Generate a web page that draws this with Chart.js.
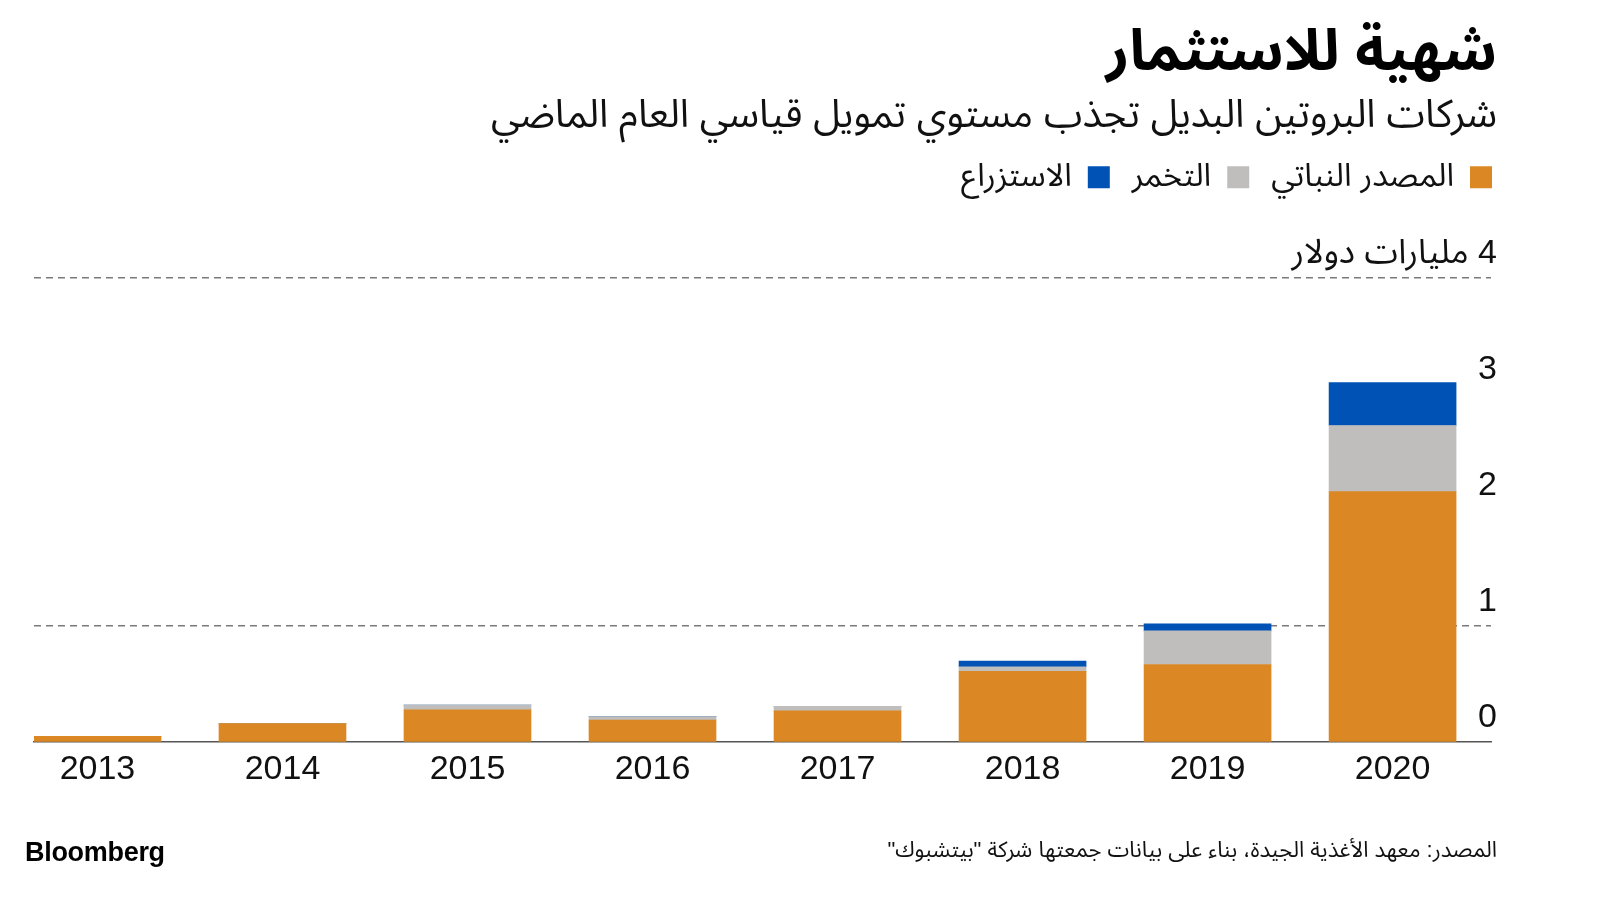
<!DOCTYPE html>
<html lang="ar">
<head>
    <meta charset="UTF-8">
    <title>شهية للاستثمار</title>
    <script src="https://cdn.jsdelivr.net/npm/chart.js"></script>
    <style>
        body { margin: 0; background: #fff; }
        .wrap { position: relative; width: 1600px; height: 912px; }
        .brand {
            position: absolute; left: 25px; top: 837px;
            font: bold 27px 'Liberation Sans', Arial, sans-serif;
            letter-spacing: -0.3px; color: #000;
        }
        .source {
            position: absolute; right: 103px; top: 827px;
            font: 22px 'Liberation Sans', 'Noto Sans Arabic', 'DejaVu Sans', sans-serif;
            color: #111; direction: rtl;
        }
    </style>
</head>
<body>
    <div class="wrap">
        <canvas id="chart"></canvas>
        <div class="brand">Bloomberg</div>
        <div class="source">المصدر: معهد الأغذية الجيدة، بناء على بيانات جمعتها شركة "بيتشبوك"</div>
    </div>

    <script>
        // data (billions of dollars)
        const years = ['2013', '2014', '2015', '2016', '2017', '2018', '2019', '2020'];
        const plantBased   = [0.05, 0.16, 0.28, 0.19, 0.27, 0.61, 0.67, 2.16];
        const fermentation = [0.00, 0.00, 0.04, 0.03, 0.04, 0.04, 0.29, 0.57];
        const cultivated   = [0.00, 0.00, 0.00, 0.00, 0.00, 0.05, 0.06, 0.37];
        const seriesNames  = ['المصدر النباتي', 'التخمر', 'الاستزراع'];
        const yTicks = [0, 1, 2, 3, 4];
        const unitLabel = 'مليارات دولار';

        const FONT = "'Liberation Sans', 'Noto Sans Arabic', 'DejaVu Sans', sans-serif";
        const colors = ['#DB8824', '#BFBEBD', '#0052B4'];

        const toPoints = arr => arr.map((v, i) => ({ x: i, y: v }));

        // extra space under the legend, and nudge it to the right edge
        const legendTweak = {
            id: 'legendTweak',
            afterInit(chart) {
                const legend = chart.legend;
                const fit = legend.fit;
                legend.fit = function () {
                    fit.call(this);
                    this.height += 75;
                };
                const draw = legend.draw;
                legend.draw = function () {
                    const ctx = this.ctx;
                    ctx.save();
                    ctx.translate(17, 0);
                    draw.apply(this, arguments);
                    ctx.restore();
                };
            }
        };

        new Chart(document.getElementById('chart'), {
            type: 'bar',
            data: {
                datasets: [plantBased, fermentation, cultivated].map((d, k) => ({
                    label: seriesNames[k],
                    data: toPoints(d),
                    backgroundColor: colors[k],
                    barThickness: 127,
                    borderWidth: 0
                }))
            },
            options: {
                responsive: true,
                maintainAspectRatio: false,
                animation: false,
                layout: { padding: { left: 34, right: 103, top: 20, bottom: 115 } },
                plugins: {
                    title: {
                        display: true,
                        text: 'شهية للاستثمار',
                        align: 'end',
                        color: '#000',
                        font: { family: FONT, size: 57, weight: 'bold' },
                        padding: { top: 0, bottom: 4 }
                    },
                    subtitle: {
                        display: true,
                        text: 'شركات البروتين البديل تجذب مستوي تمويل قياسي العام الماضي',
                        align: 'end',
                        color: '#111',
                        font: { family: FONT, size: 39 },
                        padding: { top: 0, bottom: 0 }
                    },
                    legend: {
                        display: true,
                        position: 'top',
                        align: 'start',
                        rtl: true,
                        textDirection: 'rtl',
                        labels: {
                            boxWidth: 22,
                            boxHeight: 22,
                            padding: 22,
                            color: '#111',
                            font: { family: FONT, size: 32 }
                        }
                    },
                    tooltip: { enabled: false }
                },
                scales: {
                    x: {
                        type: 'linear',
                        stacked: true,
                        offset: false,
                        min: -0.343,
                        max: 7.532,
                        afterBuildTicks: s => { s.ticks = years.map((_, i) => ({ value: i })); },
                        grid: { display: false, drawTicks: false, offset: false },
                        border: { display: true, color: '#555', width: 1.5 },
                        ticks: {
                            autoSkip: false,
                            maxRotation: 0,
                            padding: 7,
                            color: '#111',
                            font: { family: FONT, size: 34 },
                            callback: v => years[v] ?? ''
                        }
                    },
                    y: {
                        position: 'right',
                        stacked: true,
                        min: 0,
                        max: 4,
                        afterBuildTicks: s => { s.ticks = yTicks.map(v => ({ value: v })); },
                        afterFit: s => { s.width = 6; },
                        grid: {
                            drawTicks: false,
                            lineWidth: 1.6,
                            color: c => (c.tick && (c.tick.value === 1 || c.tick.value === 4)) ? '#7a7a7a' : 'rgba(0,0,0,0)'
                        },
                        border: { display: false, dash: [7, 5] },
                        ticks: {
                            mirror: true,
                            padding: 6,
                            labelOffset: -25,
                            color: '#111',
                            font: { family: FONT, size: 34 },
                            callback: v => v === 4 ? '\u200F' + v + ' ' + unitLabel : String(v)
                        }
                    }
                }
            },
            plugins: [legendTweak]
        });
    </script>
</body>
</html>
